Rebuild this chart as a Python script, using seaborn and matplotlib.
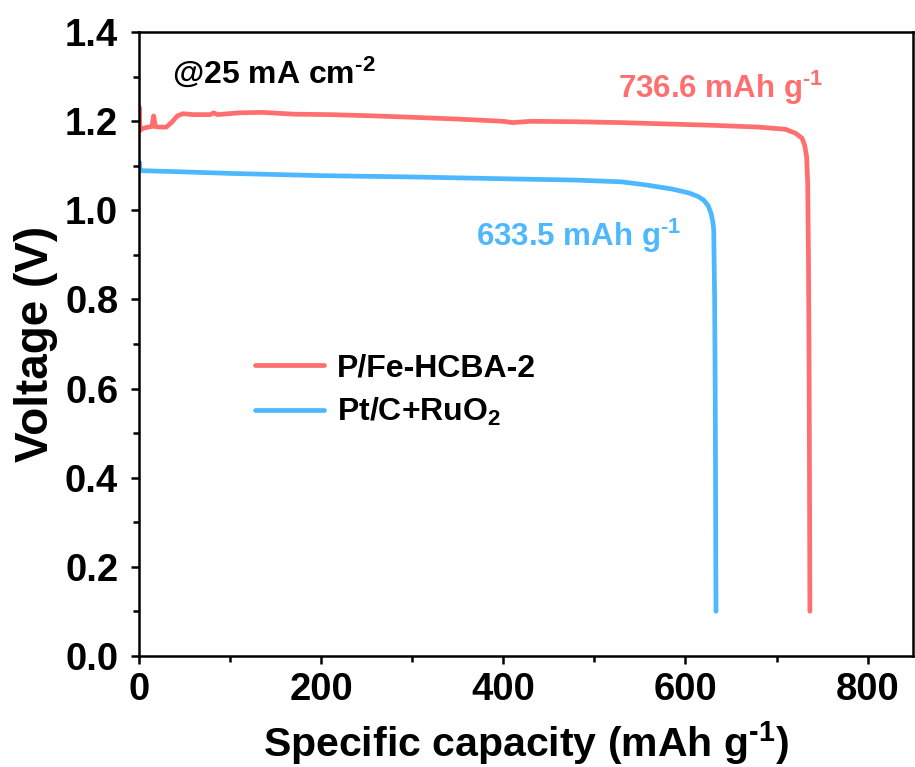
import numpy as np
import pandas as pd
import seaborn as sns
import matplotlib
matplotlib.use("Agg")
import matplotlib.pyplot as plt
from matplotlib.ticker import MultipleLocator, FormatStrFormatter

# Discharge curves (specific capacity in mAh g^-1, voltage in V)
pfe_capacity = [0, 0.3, 1, 4, 10, 14, 16, 18, 22, 30, 36, 42, 48, 60, 78, 82, 86,
                110, 135, 170, 210, 260, 300, 350, 400, 410, 430, 480, 530, 580,
                630, 680, 710, 721, 728, 731, 733, 734.2, 735, 735.6, 736.0,
                736.3, 736.6]
pfe_voltage = [1.176, 1.232, 1.18, 1.184, 1.187, 1.188, 1.212, 1.188, 1.187, 1.187,
               1.198, 1.212, 1.217, 1.215, 1.215, 1.219, 1.215, 1.219, 1.22,
               1.216, 1.215, 1.212, 1.209, 1.205, 1.2, 1.197, 1.2, 1.199, 1.197,
               1.194, 1.191, 1.187, 1.182, 1.173, 1.162, 1.145, 1.12, 1.06, 0.9,
               0.7, 0.5, 0.3, 0.1]

ptc_capacity = [0, 0.3, 1, 5, 40, 100, 200, 300, 400, 480, 530, 557, 585, 604,
                614, 620, 625, 628, 630, 631, 632, 632.6, 633.0, 633.3, 633.5]
ptc_voltage = [1.09, 1.108, 1.09, 1.089, 1.087, 1.083, 1.078, 1.075, 1.071, 1.068,
               1.064, 1.057, 1.048, 1.039, 1.031, 1.023, 1.01, 0.994, 0.975,
               0.956, 0.8, 0.6, 0.4, 0.2, 0.1]

series_names = ["P/Fe-HCBA-2", "Pt/C+RuO$_\\mathregular{2}$"]
final_capacities = [736.6, 633.5]
colors = ["#FF6F6F", "#4DB8FF"]

df = pd.concat([
    pd.DataFrame({"capacity": pfe_capacity, "voltage": pfe_voltage, "sample": series_names[0]}),
    pd.DataFrame({"capacity": ptc_capacity, "voltage": ptc_voltage, "sample": series_names[1]}),
], ignore_index=True)

sns.set_style("ticks")
plt.rcParams["font.family"] = ["Liberation Sans", "DejaVu Sans"]
plt.rcParams["font.weight"] = "bold"
plt.rcParams["mathtext.fontset"] = "custom"
plt.rcParams["mathtext.rm"] = "Liberation Sans:bold"
plt.rcParams["mathtext.bf"] = "Liberation Sans:bold"
plt.rcParams["mathtext.it"] = "Liberation Sans:bold"
plt.rcParams["mathtext.sf"] = "Liberation Sans:bold"
plt.rcParams["mathtext.default"] = "regular"
plt.rcParams["text.color"] = "black"
plt.rcParams["axes.labelcolor"] = "black"

SUP1 = "$^{\\text{-1}}$"
SUP2 = "$^{\\text{-2}}$"

fig = plt.figure(figsize=(9.15, 7.67), dpi=100)
ax = fig.add_axes([0.152, 0.145, 0.846, 0.813])

sns.lineplot(data=df, x="capacity", y="voltage", hue="sample", palette=colors,
             hue_order=series_names, sort=False, estimator=None, lw=3.4, ax=ax,
             legend=True)
for ln in ax.get_lines():
    ln.set_solid_capstyle("round")
    ln.set_solid_joinstyle("round")

ax.set_xlim(0, 850)
ax.set_ylim(0, 1.4)
ax.xaxis.set_major_locator(MultipleLocator(200))
ax.xaxis.set_minor_locator(MultipleLocator(100))
ax.yaxis.set_major_locator(MultipleLocator(0.2))
ax.yaxis.set_minor_locator(MultipleLocator(0.1))
ax.yaxis.set_major_formatter(FormatStrFormatter("%.1f"))

for sp in ax.spines.values():
    sp.set_linewidth(1.8)
    sp.set_color("black")
ax.tick_params(which="major", direction="out", length=6, width=1.8,
               labelsize=27.5, top=False, right=False, colors="black", pad=6)
ax.tick_params(axis="y", which="major", pad=9)
ax.tick_params(which="minor", direction="out", length=4, width=1.8,
               top=False, right=False, colors="black")
for lab in ax.get_xticklabels() + ax.get_yticklabels():
    lab.set_fontweight("bold")

ax.set_xlabel("Specific capacity (mAh g" + SUP1 + ")", fontsize=29.5,
              fontweight="bold", labelpad=8)
ax.set_ylabel("Voltage (V)", fontsize=33, fontweight="bold", labelpad=5)

ax.text(36, 1.31, "@25 mA cm" + SUP2, fontsize=23, fontweight="bold",
        ha="left", va="center", color="black")
ax.text(639, 1.274, f"{final_capacities[0]} mAh g" + SUP1, fontsize=22.5,
        fontweight="bold", ha="center", va="center", color=colors[0])
ax.text(483, 0.942, f"{final_capacities[1]} mAh g" + SUP1, fontsize=22.5,
        fontweight="bold", ha="center", va="center", color=colors[1])

leg = ax.legend(loc="center left", bbox_to_anchor=(0.113, 0.425), frameon=False,
                handlelength=2.15, handletextpad=0.4, labelspacing=0.38,
                prop={"weight": "bold", "size": 23})
for h in leg.get_lines():
    h.set_linewidth(3.4)
    h.set_solid_capstyle("round")

fig.savefig("out.png", dpi=100)
